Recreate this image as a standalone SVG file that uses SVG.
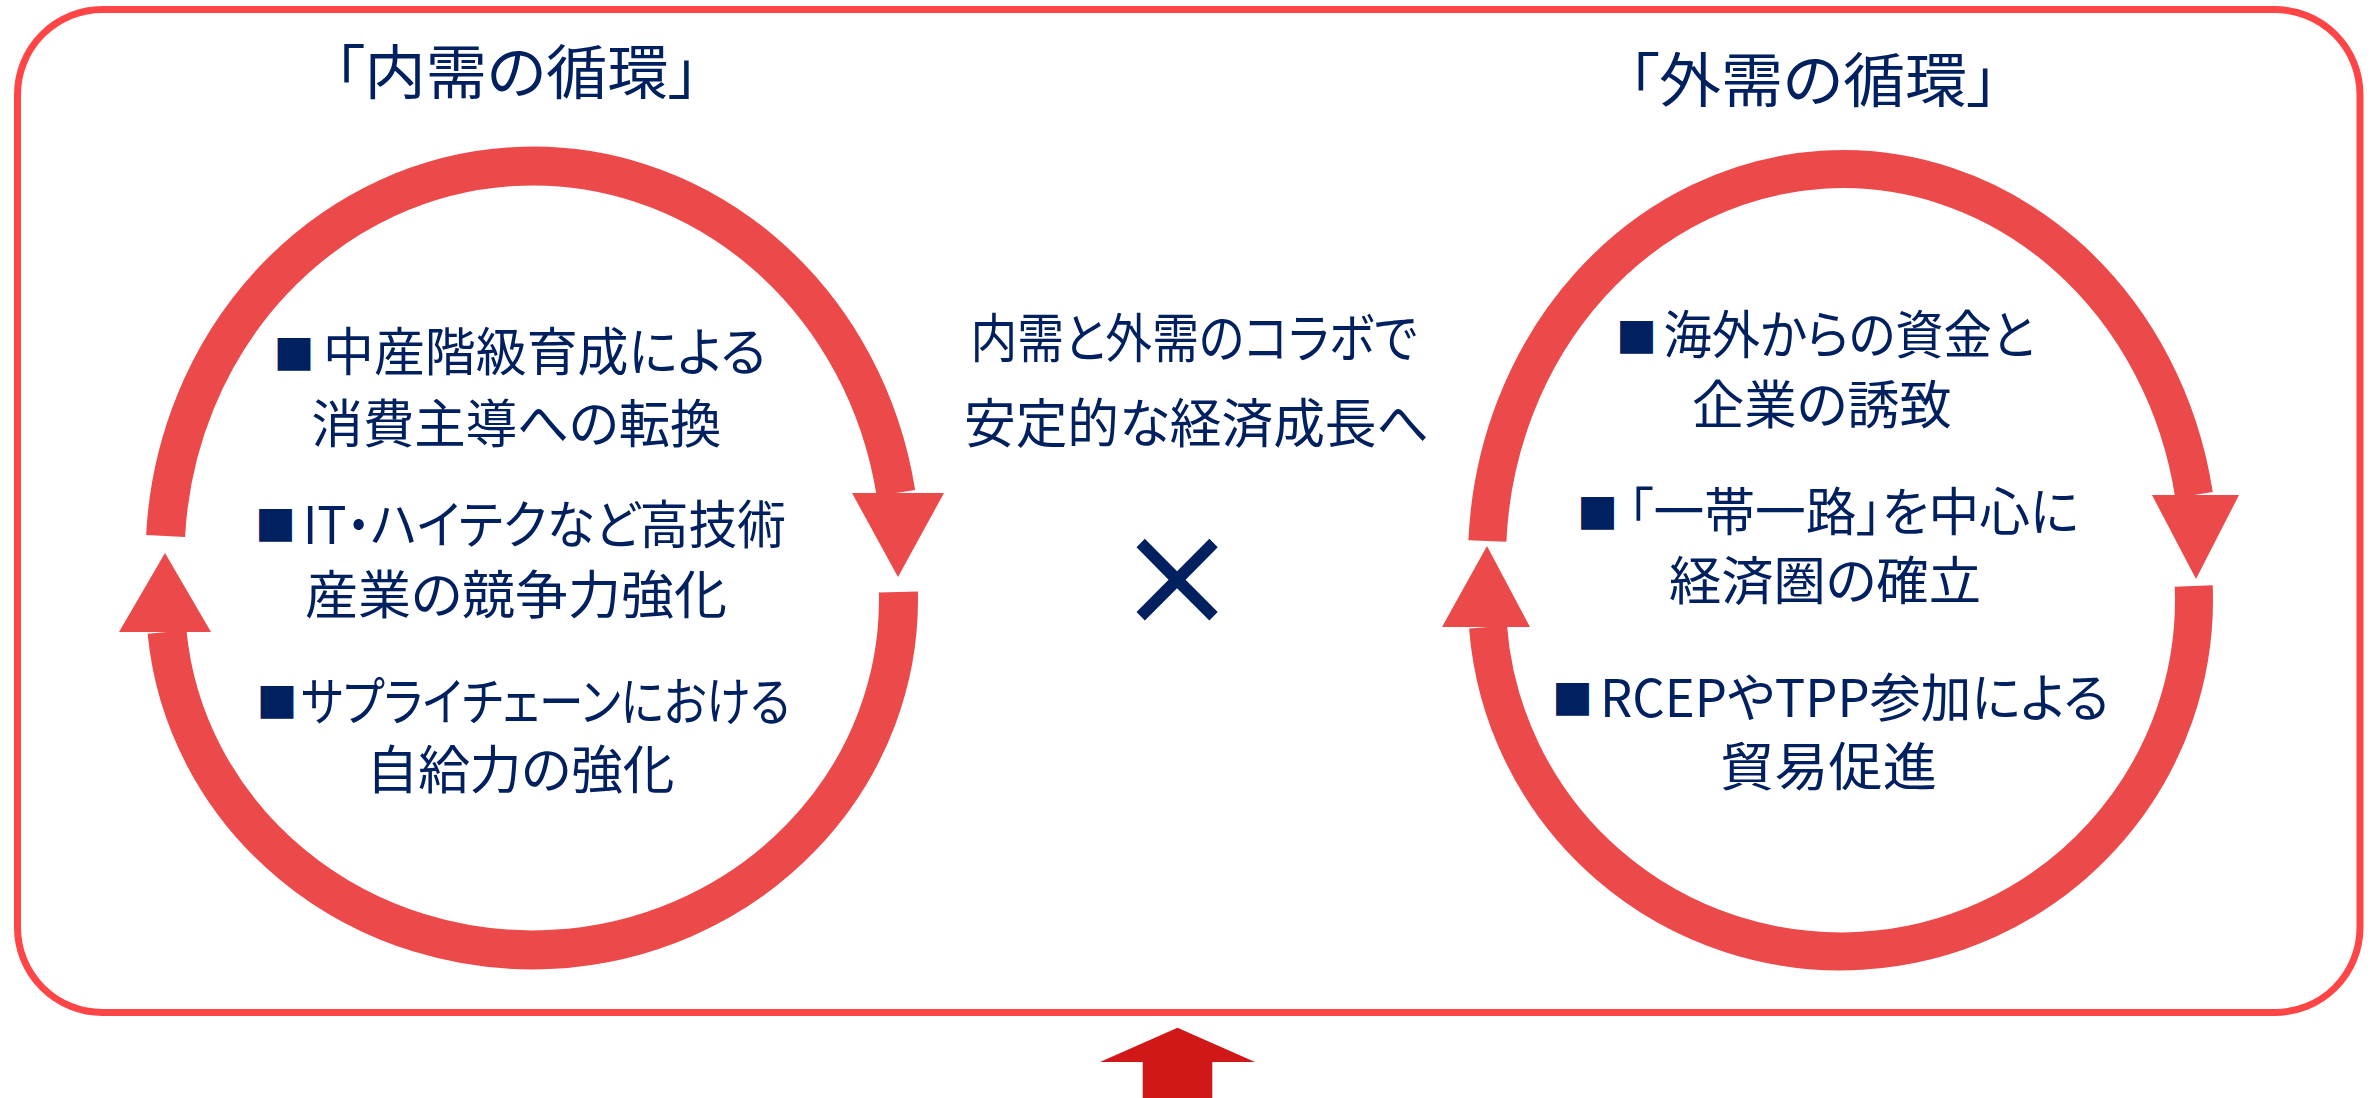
<svg xmlns="http://www.w3.org/2000/svg" width="2379" height="1098" viewBox="0 0 2379 1098">
<style>
.frame{fill:none;stroke:#FF4545;stroke-width:7}
.ring{fill:none;stroke:#EC4A4A;stroke-width:39;stroke-linecap:butt}
.head{fill:#EC4A4A}
.up{fill:#D01818}
.t{font-family:"Noto Sans CJK JP","Noto Sans CJK SC",sans-serif;fill:#002060;font-feature-settings:"palt"}
.title{font-size:59px}
.body{font-size:52px}
.mid{font-size:53px}
.sq{font-family:"Noto Sans CJK JP","Noto Sans CJK SC",sans-serif;fill:#002060;font-size:41px;text-anchor:middle}
.times{font-family:"DejaVu Sans",sans-serif;fill:#002060;font-size:144px;text-anchor:middle}
</style>
<rect width="2379" height="1098" fill="#FFFFFF"/>
<g id="frame">
<rect class="frame" x="17.5" y="9.5" width="2342.5" height="1003" rx="85" ry="85"/>
</g>
<g id="connectors">
<path class="ring" d="M165.58,536 A368,392 0 0 1 895.9,493"/>
<polygon class="head" points="852,493 944,493 898,577"/>
<path class="ring" d="M898.4,592 A366.5,350 0 0 1 167.04,632"/>
<polygon class="head" points="119,632 211,632 165,553"/>
<path class="ring" style="stroke-width:38" d="M1487.4,541 A356,391 0 0 1 2194,495"/>
<polygon class="head" points="2152,495 2239,495 2196,579"/>
<path class="ring" style="stroke-width:38" d="M2193.72,586 A353.5,351.5 0 0 1 1488.05,627"/>
<polygon class="head" points="1442,627 1530,627 1487,546"/>
<polygon class="up" points="1177.5,1027.7 1255,1062 1212.3,1062 1212.3,1098 1142.7,1098 1142.7,1062 1100,1062"/>
</g>
<g id="title-domestic">
<text class="t title" x="334" y="94" textLength="365" lengthAdjust="spacingAndGlyphs">「内需の循環」</text>
</g>
<g id="title-foreign">
<text class="t title" x="1628" y="102" textLength="370" lengthAdjust="spacingAndGlyphs">「外需の循環」</text>
</g>
<g id="domestic-1">
<text class="sq" x="294.1" y="370.2">■</text>
<text class="t body" x="323" y="371" textLength="443" lengthAdjust="spacingAndGlyphs">中産階級育成による</text>
<text class="t body" x="311.5" y="443" textLength="410" lengthAdjust="spacingAndGlyphs">消費主導への転換</text>
</g>
<g id="domestic-2">
<text class="sq" x="275.55" y="541.1">■</text>
<text class="t body" x="303" y="544.4" textLength="483" lengthAdjust="spacingAndGlyphs">IT・ハイテクなど高技術</text>
<text class="t body" x="305" y="614.4" textLength="422" lengthAdjust="spacingAndGlyphs">産業の競争力強化</text>
</g>
<g id="domestic-3">
<text class="sq" x="276.95" y="717.6">■</text>
<text class="t body" x="301" y="721" textLength="489" lengthAdjust="spacingAndGlyphs">サプライチェーンにおける</text>
<text class="t body" x="366.5" y="789.4" textLength="308" lengthAdjust="spacingAndGlyphs">自給力の強化</text>
</g>
<g id="center">
<text class="t mid" x="970.5" y="357.7" textLength="447" lengthAdjust="spacingAndGlyphs">内需と外需のコラボで</text>
<text class="t mid" x="964" y="442.7" textLength="465" lengthAdjust="spacingAndGlyphs">安定的な経済成長へ</text>
</g>
<g id="times">
<text class="times" x="1177.2" y="625.2">×</text>
</g>
<g id="foreign-1">
<text class="sq" x="1636.4" y="353.3">■</text>
<text class="t body" x="1663.5" y="354.4" textLength="371" lengthAdjust="spacingAndGlyphs">海外からの資金と</text>
<text class="t body" x="1692" y="424.4" textLength="260" lengthAdjust="spacingAndGlyphs">企業の誘致</text>
</g>
<g id="foreign-2">
<text class="sq" x="1597.4" y="528.9">■</text>
<text class="t body" x="1628" y="531" textLength="451" lengthAdjust="spacingAndGlyphs">「一帯一路」を中心に</text>
<text class="t body" x="1669" y="600" textLength="312" lengthAdjust="spacingAndGlyphs">経済圏の確立</text>
</g>
<g id="foreign-3">
<text class="sq" x="1572.5" y="715.1">■</text>
<text class="t body" x="1600" y="717" textLength="509" lengthAdjust="spacingAndGlyphs">RCEPやTPP参加による</text>
<text class="t body" x="1720" y="786" textLength="217" lengthAdjust="spacingAndGlyphs">貿易促進</text>
</g>
</svg>
